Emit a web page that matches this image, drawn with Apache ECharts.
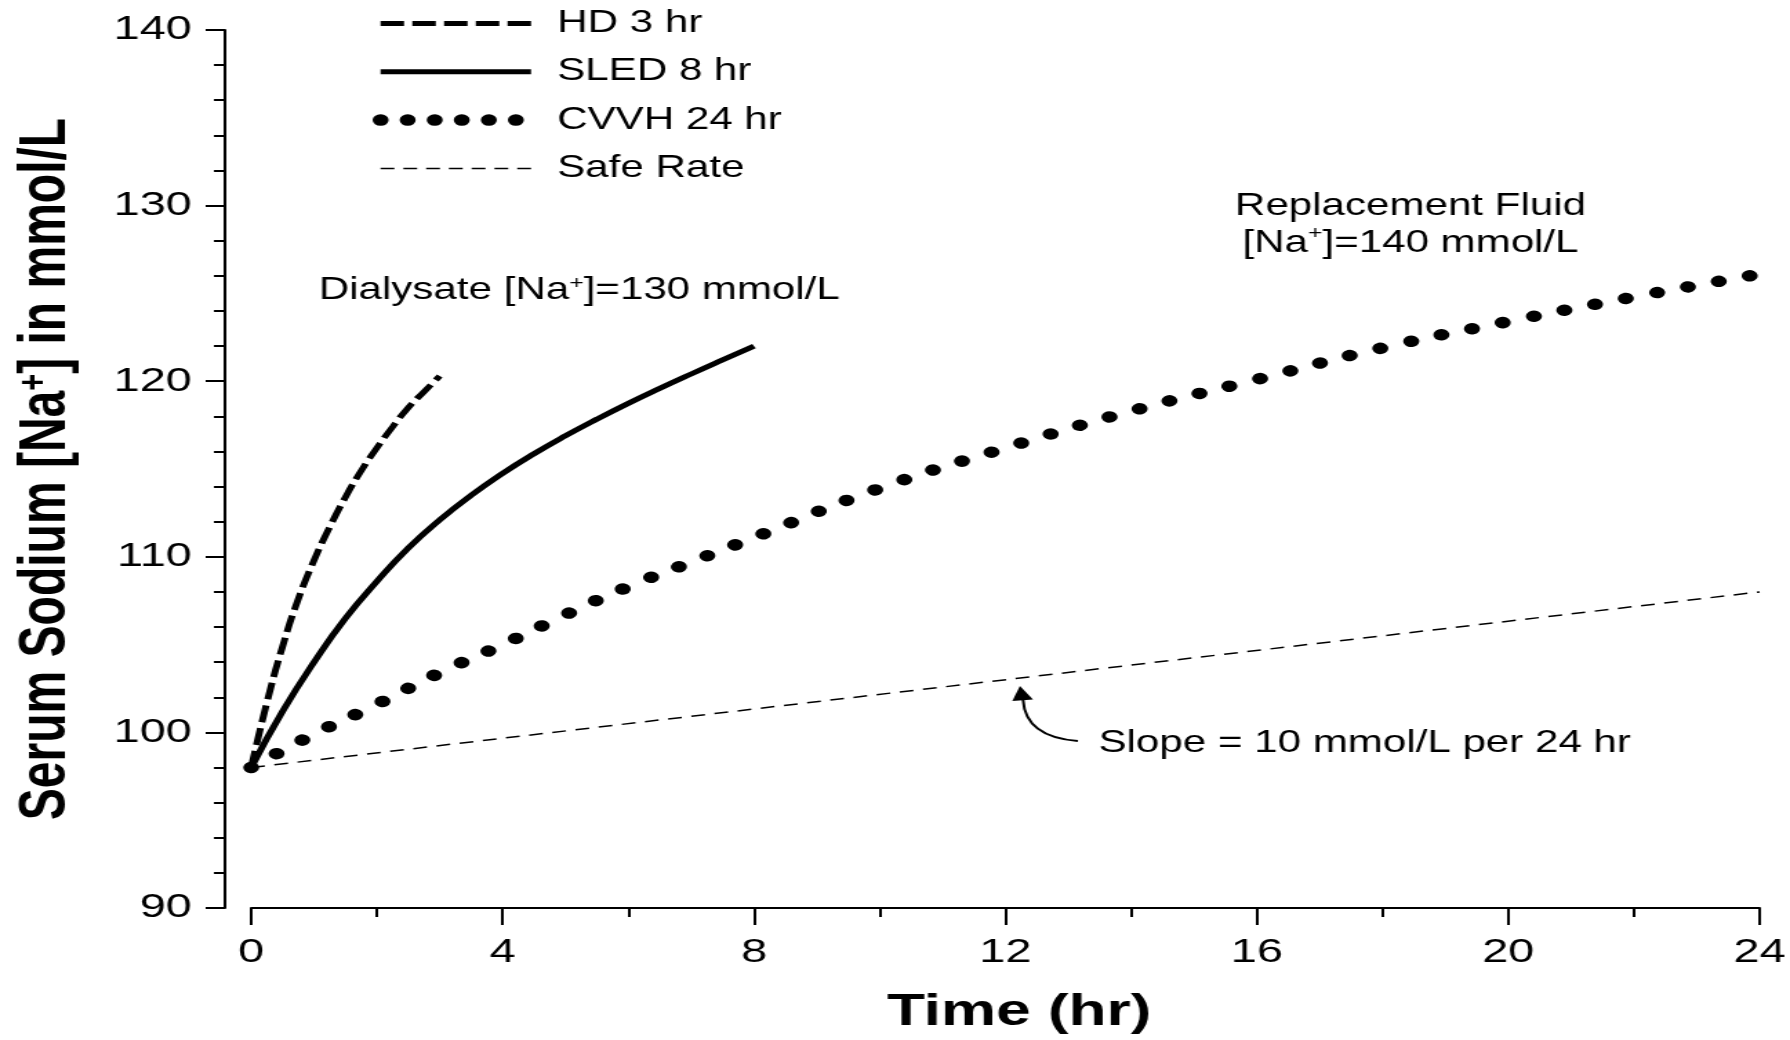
<!DOCTYPE html>
<html>
<head>
<meta charset="utf-8">
<title>Serum sodium correction by modality</title>
<script src="https://cdn.jsdelivr.net/npm/echarts@6.0.0/dist/echarts.min.js"></script>
<style>
  html, body { margin: 0; padding: 0; background: #fff; overflow: hidden; }
  /* the source figure is stretched sideways, so the chart is drawn narrow and widened */
  #chart { width: 1297px; height: 1040px; transform: scaleX(1.3801); transform-origin: 0 0; }
</style>
</head>
<body>
<div id="chart"></div>
<script>
const xTicks = [0, 4, 8, 12, 16, 20, 24];
const yTicks = [90, 100, 110, 120, 130, 140];

const hdTime = [0, 0.25, 0.5, 0.75, 1, 1.25, 1.5, 1.75, 2, 2.25, 2.5, 2.75, 3];
const hdNa = [98, 101.7, 104.9, 107.6, 109.8, 111.7, 113.4, 114.9, 116.2, 117.4, 118.5, 119.4, 120.3];

const sledTime = [0, 0.5, 1, 1.5, 2, 2.5, 3, 3.5, 4, 4.5, 5, 5.5, 6, 6.5, 7, 7.5, 8];
const sledNa = [98, 101.2, 104.0, 106.5, 108.6, 110.5, 112.1, 113.5, 114.75, 115.87, 116.89, 117.84, 118.74, 119.59, 120.41, 121.21, 122.0];

const cvvhTime = [0, 1, 2, 3, 4, 5, 6, 7, 8, 10, 12, 14, 16, 18, 20, 22, 24];
const cvvhNa = [98, 99.9, 101.6, 103.4, 105.0, 106.7, 108.3, 109.7, 111.1, 113.9, 116.2, 118.3, 120.1, 121.9, 123.4, 124.8, 126.1];

const safeTime = [0, 24];
const safeNa = [98, 108];

const FONT = '"Liberation Sans", Arial, Helvetica, sans-serif';
const black = '#000';

function pairs(xs, ys) {
  return xs.map((x, i) => [x, ys[i]]);
}

const sup = function (size, weight) {
  return { fontSize: size, lineHeight: size, fontFamily: FONT, fontWeight: weight, color: black, verticalAlign: 'top' };
};

let option = {
  animation: false,
  backgroundColor: '#fff',
  textStyle: { fontFamily: FONT, color: black },
  grid: { left: 182, right: 22, top: 30, bottom: 132 },
  legend: {
    orient: 'vertical',
    left: 270,
    top: 8,
    padding: 0,
    itemGap: 17.3,
    itemWidth: 109,
    itemHeight: 30,
    selectedMode: false,
    itemStyle: { opacity: 0 },
    textStyle: { fontSize: 30.5, color: black, fontFamily: FONT, padding: [10, 0, 0, 14] },
    data: [
      { name: 'HD 3 hr', lineStyle: { color: black, width: 5, type: [17, 6] } },
      { name: 'SLED 8 hr', lineStyle: { color: black, width: 5, type: 'solid' } },
      { name: 'CVVH 24 hr', lineStyle: { color: black, width: 11.5, type: [0.1, 19.5], cap: 'round' } },
      { name: 'Safe Rate', lineStyle: { color: black, width: 1.5, type: [10, 6.5] } }
    ]
  },
  xAxis: {
    type: 'value',
    min: xTicks[0],
    max: xTicks[xTicks.length - 1],
    interval: xTicks[1] - xTicks[0],
    name: 'Time (hr)',
    nameLocation: 'middle',
    nameGap: 82,
    nameTextStyle: { fontSize: 45, fontWeight: 'bold', color: black, fontFamily: FONT, padding: [0, 0, 0, 20] },
    axisLine: { show: true, onZero: false, lineStyle: { color: black, width: 2 } },
    axisTick: { show: true, length: 17, lineStyle: { color: black, width: 2 } },
    minorTick: { show: true, splitNumber: 2, length: 9, lineStyle: { color: black, width: 2 } },
    axisLabel: { margin: 28, fontSize: 34, color: black, fontFamily: FONT },
    splitLine: { show: false },
    minorSplitLine: { show: false }
  },
  yAxis: {
    type: 'value',
    min: yTicks[0],
    max: yTicks[yTicks.length - 1],
    interval: yTicks[1] - yTicks[0],
    offset: 19,
    name: 'Serum Sodium [Na{sup|+}] in mmol/L',
    nameLocation: 'middle',
    nameGap: 105,
    nameTextStyle: { fontSize: 48, fontWeight: 'bold', color: black, fontFamily: FONT, rich: { sup: sup(29, 'bold') } },
    axisLine: { show: true, onZero: false, lineStyle: { color: black, width: 2 } },
    axisTick: { show: true, length: 14, lineStyle: { color: black, width: 2 } },
    minorTick: { show: true, splitNumber: 5, length: 8, lineStyle: { color: black, width: 2 } },
    axisLabel: { margin: 24, fontSize: 34, color: black, fontFamily: FONT },
    splitLine: { show: false },
    minorSplitLine: { show: false }
  },
  series: [
    {
      name: 'Safe Rate',
      type: 'line',
      data: pairs(safeTime, safeNa),
      symbol: 'none',
      clip: false,
      lineStyle: { color: black, width: 1.5, type: [10, 7] }
    },
    {
      name: 'CVVH 24 hr',
      type: 'line',
      data: pairs(cvvhTime, cvvhNa),
      symbol: 'none',
      smooth: true,
      clip: false,
      lineStyle: { color: black, width: 11.5, type: [0.1, 23], cap: 'round' }
    },
    {
      name: 'SLED 8 hr',
      type: 'line',
      data: pairs(sledTime, sledNa),
      symbol: 'none',
      smooth: true,
      clip: false,
      lineStyle: { color: black, width: 5 }
    },
    {
      name: 'HD 3 hr',
      type: 'line',
      data: pairs(hdTime, hdNa),
      symbol: 'none',
      smooth: true,
      clip: false,
      lineStyle: { color: black, width: 5, type: [17, 6] }
    }
  ],
  graphic: [
    {
      type: 'text',
      x: 231,
      y: 291,
      style: {
        text: 'Dialysate [Na{sup|+}]=130 mmol/L',
        fontSize: 30.5, fontFamily: FONT, fill: black, verticalAlign: 'middle',
        rich: { sup: sup(18, 'normal') }
      }
    },
    {
      type: 'text',
      x: 1022,
      y: 225,
      style: {
        text: 'Replacement Fluid\n[Na{sup|+}]=140 mmol/L',
        fontSize: 30.5, lineHeight: 36.6, fontFamily: FONT, fill: black,
        align: 'center', verticalAlign: 'middle',
        rich: { sup: sup(18, 'normal') }
      }
    },
    {
      type: 'text',
      x: 796,
      y: 744,
      style: { text: 'Slope = 10 mmol/L per 24 hr', fontSize: 30.5, fontFamily: FONT, fill: black, verticalAlign: 'middle' }
    },
    {
      type: 'bezierCurve',
      shape: { x1: 781, y1: 741, cpx1: 743, cpy1: 737, x2: 741.3, y2: 700 },
      style: { stroke: black, lineWidth: 2, fill: null }
    },
    {
      type: 'polygon',
      shape: { points: [[739, 686], [733.5, 701], [748.5, 699.5]] },
      style: { fill: black }
    }
  ]
};

let chart = echarts.init(document.getElementById('chart'));
chart.setOption(option);
</script>
</body>
</html>
